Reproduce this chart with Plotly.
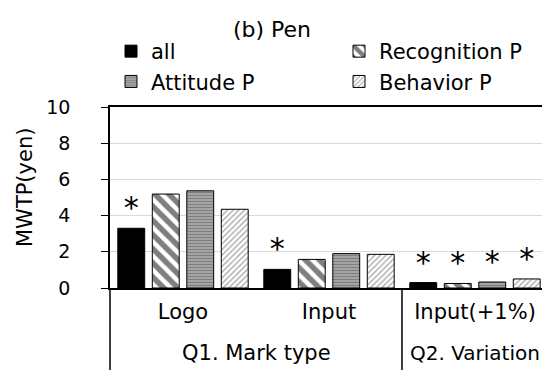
import plotly.graph_objects as go

categories = ["Logo", "Input", "Input(+1%)"]
series_names = ["all", "Recognition P", "Attitude P", "Behavior P"]
all_vals = [3.3, 1.03, 0.3]
recognition_vals = [5.19, 1.58, 0.25]
attitude_vals = [5.37, 1.9, 0.33]
behavior_vals = [4.35, 1.86, 0.5]
all_sig = [True, True, True]
recognition_sig = [False, False, True]
attitude_sig = [False, False, True]
behavior_sig = [False, False, True]
y_ticks = [0, 2, 4, 6, 8, 10]
group_labels = ["Q1. Mark type", "Q2. Variation"]

FONT = "DejaVu Sans"
TXT = 21
W, H = 550, 371
ML, MR, MT, MB = 102, 10, 99, 91
PW = W - ML - MR
PH = H - MT - MB

styles = [
    dict(color="black", pattern=None, legend="legend"),
    dict(color="white", pattern=dict(shape="\\", fgcolor="black", bgcolor="white", size=10, solidity=0.55), legend="legend2"),
    dict(color="white", pattern=dict(shape="-", fgcolor="#444444", bgcolor="#bbbbbb", size=3, solidity=0.6), legend="legend"),
    dict(color="white", pattern=dict(shape="/", fgcolor="#555555", bgcolor="white", size=4, solidity=0.35), legend="legend2"),
]
vals = [all_vals, recognition_vals, attitude_vals, behavior_vals]
sigs = [all_sig, recognition_sig, attitude_sig, behavior_sig]

fig = go.Figure()
for name, v, s, st in zip(series_names, vals, sigs, styles):
    marker = dict(color=st["color"], line=dict(color="black", width=1))
    if st["pattern"]:
        marker["pattern"] = st["pattern"]
    fig.add_trace(go.Bar(
        x=categories, y=v, name=name, marker=marker,
        text=["*" if f else "" for f in s], textposition="outside",
        textfont=dict(family=FONT, size=30, color="black"),
        cliponaxis=False, legend=st["legend"],
    ))

fig.update_layout(
    width=W, height=H,
    margin=dict(l=ML, r=MR, t=MT, b=MB, autoexpand=False),
    paper_bgcolor="white", plot_bgcolor="white",
    font=dict(family=FONT, size=TXT, color="black"),
    barmode="group", bargap=0.055, bargroupgap=0.22,
    showlegend=True,
    title=dict(text="(b) Pen", x=264 / W, xanchor="center", y=1 - 21 / H, yanchor="middle",
               font=dict(family=FONT, size=22, color="black")),
    legend=dict(x=(103 - ML) / PW, xanchor="left", y=1 - 23 / H, yanchor="top", yref="container",
                bgcolor="rgba(0,0,0,0)", font=dict(size=TXT), tracegroupgap=2),
    legend2=dict(x=(331 - ML) / PW, xanchor="left", y=1 - 23 / H, yanchor="top", yref="container",
                 bgcolor="rgba(0,0,0,0)", font=dict(size=TXT), tracegroupgap=2),
    xaxis=dict(showline=True, linecolor="black", linewidth=1.5, mirror=True,
               showgrid=False, ticks="", tickfont=dict(size=TXT), ticklabelstandoff=4),
    yaxis=dict(range=[0, 10], tickvals=y_ticks, showline=True, linecolor="black", linewidth=1.5,
               mirror=True, showgrid=True, gridcolor="#d9d9d9", gridwidth=1,
               ticks="outside", ticklen=7, tickcolor="black", tickfont=dict(size=19),
               ticklabelstandoff=27, zeroline=False),
)

# y-axis title
fig.add_annotation(text="MWTP(yen)", textangle=-90, xref="paper", yref="paper",
                   x=(17 - ML) / PW, y=(280 - 180) / PH, xanchor="center", yanchor="middle",
                   showarrow=False, font=dict(size=TXT))

# group separators below the axis
ext = (362 - 280) / PH
div_x = 2 / 3
for xp in [0, div_x, 1]:
    fig.add_shape(type="line", xref="paper", yref="paper", x0=xp, x1=xp, y0=0, y1=-ext,
                  line=dict(color="black", width=1.5))

# group labels
fig.add_annotation(text=group_labels[0], xref="paper", yref="paper", x=div_x / 2,
                   y=-(345 - 280) / PH, xanchor="center", yanchor="middle", showarrow=False,
                   font=dict(size=TXT))
fig.add_annotation(text=group_labels[1], xref="paper", yref="paper", x=(div_x + 1) / 2,
                   y=-(345 - 280) / PH, xanchor="center", yanchor="middle", showarrow=False,
                   font=dict(size=20))

fig.write_html("out.html")
